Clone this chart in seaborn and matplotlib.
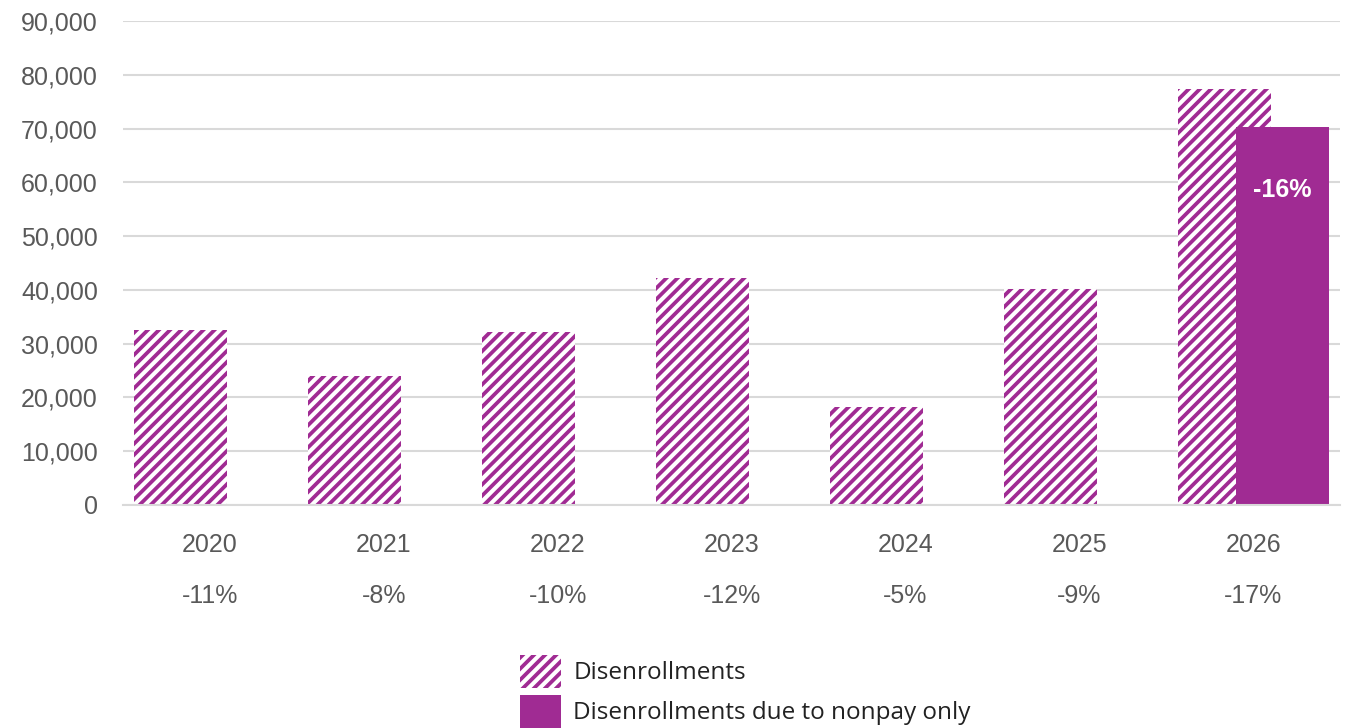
import numpy as np
import pandas as pd
import matplotlib
matplotlib.use("Agg")
import matplotlib.pyplot as plt
from matplotlib.ticker import FuncFormatter
import seaborn as sns

# ---- data ----
years = ["2020", "2021", "2022", "2023", "2024", "2025", "2026"]
disenrollments = [32500, 23900, 32200, 42200, 18200, 40200, 77300]
nonpay_only = [np.nan, np.nan, np.nan, np.nan, np.nan, np.nan, 70200]
pct_change = ["-11%", "-8%", "-10%", "-12%", "-5%", "-9%", "-17%"]
nonpay_label = "-16%"
y_ticks = [0, 10000, 20000, 30000, 40000, 50000, 60000, 70000, 80000, 90000]

PURPLE = "#A02B93"
GRID = "#D9D9D9"
TICK_TXT = "#595959"

sns.set_style("white")
plt.rcParams["font.family"] = ["Liberation Sans", "DejaVu Sans"]
plt.rcParams["hatch.linewidth"] = 2.7

pos = np.arange(len(years))
df = pd.DataFrame({
    "year": years,
    "pos": pos,
    "total": disenrollments,
    "nonpay": nonpay_only,
})
shift = 0.167
df["pos_total"] = df["pos"] - shift
df["pos_nonpay"] = df["pos"] + shift

fig = plt.figure(figsize=(13.5, 7.28), dpi=100)
ax = fig.add_axes([123 / 1350, 1 - 505 / 728, 1217 / 1350, 484 / 728])

sns.barplot(data=df, x="pos_total", y="total", native_scale=True, width=0.535,
            color="white", edgecolor=PURPLE, hatch="///", linewidth=0,
            saturation=1, errorbar=None, label="Disenrollments", ax=ax)
sns.barplot(data=df.dropna(subset=["nonpay"]), x="pos_nonpay", y="nonpay",
            native_scale=True, width=0.535, color=PURPLE, linewidth=0,
            saturation=1, errorbar=None,
            label="Disenrollments due to nonpay only", ax=ax)
if ax.get_legend() is not None:
    ax.get_legend().remove()

# axes limits and grid
ax.set_xlim(-0.5, len(years) - 0.5)
ax.set_ylim(y_ticks[0], y_ticks[-1])
ax.set_yticks(y_ticks)
ax.yaxis.set_major_formatter(FuncFormatter(lambda v, p: f"{int(v):,}"))
ax.grid(axis="y", color=GRID, linewidth=1.5)
ax.set_axisbelow(True)
ax.set_xlabel("")
ax.set_ylabel("")

for side in ("top", "left", "right"):
    ax.spines[side].set_visible(False)
ax.spines["bottom"].set_color(GRID)
ax.spines["bottom"].set_linewidth(1.5)

# category labels with separators between categories
ax.set_xticks(pos)
ax.set_xticklabels(years)
ax.set_xticks(np.arange(-0.5, len(years), 1.0), minor=True)
ax.tick_params(axis="x", which="major", length=0, pad=20, labelsize=18,
               labelcolor=TICK_TXT)
ax.tick_params(axis="x", which="minor", length=76, width=1.5, color=GRID,
               direction="out")
ax.tick_params(axis="y", length=0, pad=18, labelsize=18, labelcolor=TICK_TXT)

for p, txt in zip(pos, pct_change):
    ax.annotate(txt, xy=(p, 0), xycoords=("data", "axes fraction"),
                xytext=(0, -70.6), textcoords="offset points",
                ha="center", va="baseline", fontsize=18, color=TICK_TXT,
                annotation_clip=False)

# value label inside the nonpay bar
last = df.dropna(subset=["nonpay"]).iloc[-1]
ax.annotate(nonpay_label, xy=(last["pos_nonpay"], last["nonpay"]),
            xytext=(0, -50), textcoords="offset points",
            ha="center", va="baseline", fontsize=18, fontweight="bold",
            color="white")

handles, labels = ax.get_legend_handles_labels()
fig.legend(handles, labels, loc="upper left",
           bbox_to_anchor=(520 / 1350, 1 - 655 / 728),
           bbox_transform=fig.transFigure, frameon=False,
           borderpad=0, borderaxespad=0, handlelength=1.7,
           handleheight=1.7, handletextpad=0.5, labelspacing=0.3,
           prop={"family": ["Open Sans", "DejaVu Sans"], "size": 17.5},
           labelcolor="#222222")

fig.savefig("out.png", dpi=100, facecolor="white")
